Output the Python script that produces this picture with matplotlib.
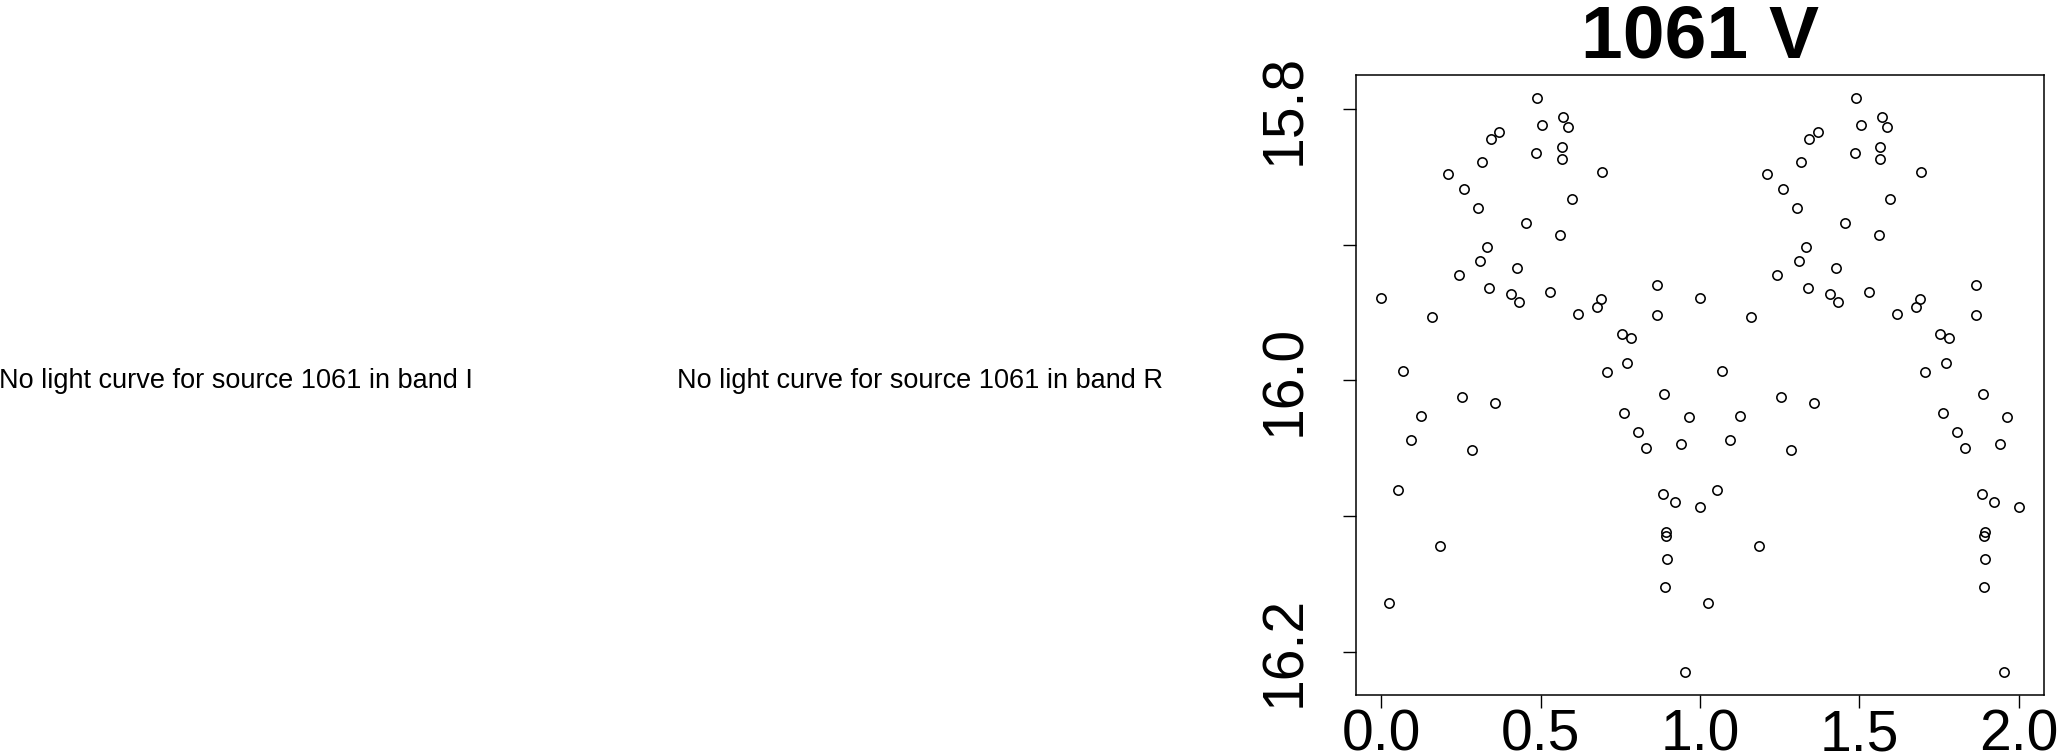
import numpy as np
import matplotlib
matplotlib.use("Agg")
import matplotlib.pyplot as plt

# Curva de luz en fase de la fuente 1061, banda V
fase = [
    0.000, 0.025, 0.052, 0.069, 0.095, 0.126, 0.161, 0.185, 0.210, 0.243,
    0.254, 0.259, 0.285, 0.303, 0.311, 0.316, 0.333, 0.338, 0.343, 0.356,
    0.370, 0.408, 0.426, 0.433, 0.454, 0.485, 0.490, 0.505, 0.530, 0.562,
    0.566, 0.566, 0.570, 0.585, 0.597, 0.618, 0.677, 0.690, 0.692, 0.707,
    0.754, 0.761, 0.770, 0.782, 0.805, 0.831, 0.864, 0.866, 0.885, 0.887,
    0.890, 0.892, 0.893, 0.895, 0.921, 0.941, 0.952, 0.964, 0.999,
]
magnitud = [
    15.939, 16.164, 16.081, 15.993, 16.044, 16.026, 15.953, 16.122, 15.848, 15.922,
    16.012, 15.859, 16.051, 15.873, 15.912, 15.839, 15.902, 15.932, 15.822, 16.017,
    15.817, 15.936, 15.917, 15.942, 15.884, 15.832, 15.792, 15.812, 15.935, 15.893,
    15.828, 15.837, 15.806, 15.813, 15.866, 15.951, 15.946, 15.940, 15.846, 15.994,
    15.966, 16.024, 15.987, 15.969, 16.038, 16.050, 15.930, 15.952, 16.084, 16.010,
    16.152, 16.115, 16.112, 16.132, 16.090, 16.047, 16.215, 16.027, 16.093,
]

fuente = "1061"
banda = "V"
bandas_sin_datos = ["I", "R"]
ticks_x = [0.0, 0.5, 1.0, 1.5, 2.0]
ticks_y = [15.8, 15.9, 16.0, 16.1, 16.2]
etiquetas_y = ["15.8", "", "16.0", "", "16.2"]

plt.rcParams["font.family"] = ["Liberation Sans", "DejaVu Sans"]

fig = plt.figure(figsize=(20.59, 7.52), dpi=100)

# --- Paneles sin datos ---
for x_txt, b in zip([0.1146, 0.4466], bandas_sin_datos):
    fig.text(
        x_txt, 0.4836,
        f"No light curve for source {fuente} in band {b}",
        ha="center", va="baseline", fontsize=19.5,
    )

# --- Panel con la curva de luz (dos ciclos) ---
ax = fig.add_axes([0.6584, 0.0758, 0.3345, 0.8241])
x = np.concatenate([fase, np.array(fase) + 1])
y = np.concatenate([magnitud, magnitud])
ax.plot(
    x, y, linestyle="none", marker="o", markersize=6.7,
    markerfacecolor="none", markeredgecolor="black", markeredgewidth=1.15,
)

ax.set_xlim(-0.08, 2.08)
ax.set_ylim(16.232, 15.775)
ax.set_xticks(ticks_x)
ax.set_xticklabels([f"{t:.1f}" for t in ticks_x])
ax.set_yticks(ticks_y)
ax.set_yticklabels(etiquetas_y, rotation=90, va="center")

ax.tick_params(axis="both", labelsize=41, length=9.4, width=1.0, direction="out")
ax.tick_params(axis="x", pad=0)
ax.tick_params(axis="y", pad=22)
for s in ax.spines.values():
    s.set_linewidth(1.1)

ax.set_title(f"{fuente} {banda}", fontsize=54, fontweight="bold", pad=13)

plt.savefig("out.png", dpi=100)
plt.close()
